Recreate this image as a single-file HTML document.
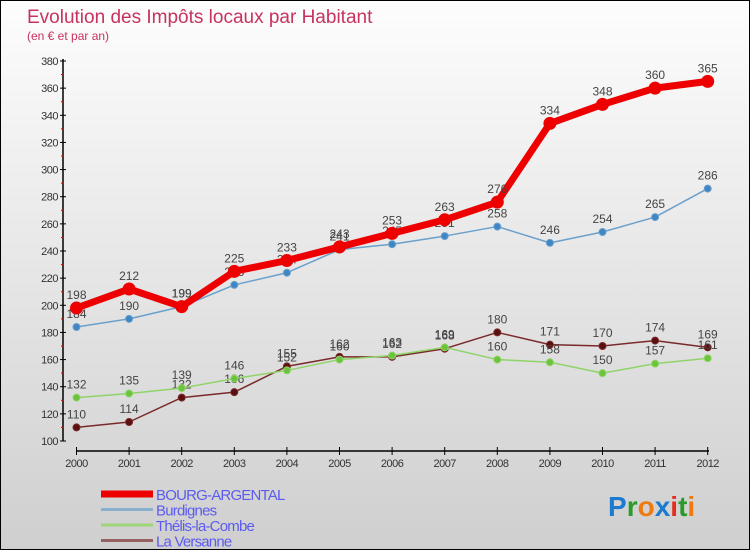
<!DOCTYPE html>
<html><head><meta charset="utf-8"><style>
html,body{margin:0;padding:0}
body{width:750px;height:550px;overflow:hidden;font-family:"Liberation Sans",sans-serif}
#wrap{position:relative;width:748px;height:548px;border:1px solid #000;background:linear-gradient(#fdfdfd,#cfcfcf)}
svg{position:absolute;left:0;top:0}
</style></head><body>
<div id="wrap">
<svg id="chart" width="750" height="550">
<text x="26" y="22" font-size="19" fill="#c8325e">Evolution des Impôts locaux par Habitant</text>
<text x="26" y="39" font-size="12" fill="#c8325e">(en € et par an)</text>
<text x="607" y="515" font-size="28" font-weight="bold"><tspan fill="#1a7bd0">P</tspan><tspan fill="#2a9a2a">r</tspan><tspan fill="#f07a10">o</tspan><tspan fill="#1a7bd0">x</tspan><tspan fill="#e03020">i</tspan><tspan fill="#2a9a2a">t</tspan><tspan fill="#f07a10">i</tspan></text>
</svg>
</div>
<script>
const years=["2000","2001","2002","2003","2004","2005","2006","2007","2008","2009","2010","2011","2012"];
const yTicks=[100,120,140,160,180,200,220,240,260,280,300,320,340,360,380];
const bourg=[198,212,199,225,233,243,253,263,276,334,348,360,365];
const burdignes=[184,190,199,215,224,241,245,251,258,246,254,265,286];
const thelis=[132,135,139,146,152,160,163,169,160,158,150,157,161];
const versanne=[110,114,132,136,155,162,162,168,180,171,170,174,169];
const svg=document.getElementById('chart');
const NS='http://www.w3.org/2000/svg';
function X(i){return 75.5+i*52.6;}
function Y(v){return 440-(v-100)*(380/280);}
function mk(t,a){const e=document.createElementNS(NS,t);for(const k in a)e.setAttribute(k,a[k]);svg.appendChild(e);return e;}
// axes
let ya=mk('line',{x1:62,y1:58,x2:62,y2:440,stroke:'#000','stroke-width':1.5});


let xa=mk('line',{x1:75,y1:450,x2:708,y2:450,stroke:'#000','stroke-width':1.5});


yTicks.forEach(v=>{
  mk('line',{x1:59,y1:Y(v),x2:65,y2:Y(v),stroke:'#000'});
  if(v<380){const r=mk('line',{x1:60,y1:Y(v+10),x2:63,y2:Y(v+10),stroke:'#e00'});}
  const t=mk('text',{x:57,y:Y(v)+4,'font-size':11,fill:'#333','text-anchor':'end','letter-spacing':'-0.5'});
  t.textContent=v;
  
  
});
years.forEach((y,i)=>{
  mk('line',{x1:X(i),y1:446,x2:X(i),y2:454,stroke:'#000'});
  const t=mk('text',{x:X(i),y:466,'font-size':11,fill:'#333','text-anchor':'middle','letter-spacing':'-0.5'});
  t.textContent=y;
  
  
});
function series(data,color,w,r,dot,name){
  const p=mk('polyline',{points:data.map((v,i)=>X(i)+','+Y(v)).join(' '),fill:'none',stroke:color,'stroke-width':w,'stroke-linejoin':'round'});
  
  
  data.forEach((v,i)=>{
    const c=mk('circle',{cx:X(i),cy:Y(v),r:r,fill:dot,stroke:color,'stroke-width':1});
    
    
    const t=mk('text',{x:X(i),y:Y(v)-9,'font-size':12,fill:'#444','text-anchor':'middle'});
    t.textContent=v;
    
    
  });
}
series(versanne,'#7a2a2a',1.5,3.5,'#5a1010','la-versanne');
series(thelis,'#8fd468',1.5,3.5,'#6cc43c','thelis-la-combe');
series(burdignes,'#6aa0cc',1.5,3.5,'#3f86c4','burdignes');
series(bourg,'#ee0000',7,6,'#ee0000','bourg-argental');
const legend=[["BOURG-ARGENTAL","#ee0000",7],["Burdignes","#8ab0d0",3],["Thélis-la-Combe","#9ed47a",3],["La Versanne","#946060",3]];
legend.forEach((l,i)=>{
  const y=493+i*15.5;
  const ln=mk('line',{x1:100,y1:y,x2:152,y2:y,stroke:l[1],'stroke-width':l[2]});
  
  
  const t=mk('text',{x:155,y:y+6,'font-size':15,fill:'#5b5bf0','letter-spacing':'-0.8'});
  t.textContent=l[0];
  
  
});
</script>
</body></html>
